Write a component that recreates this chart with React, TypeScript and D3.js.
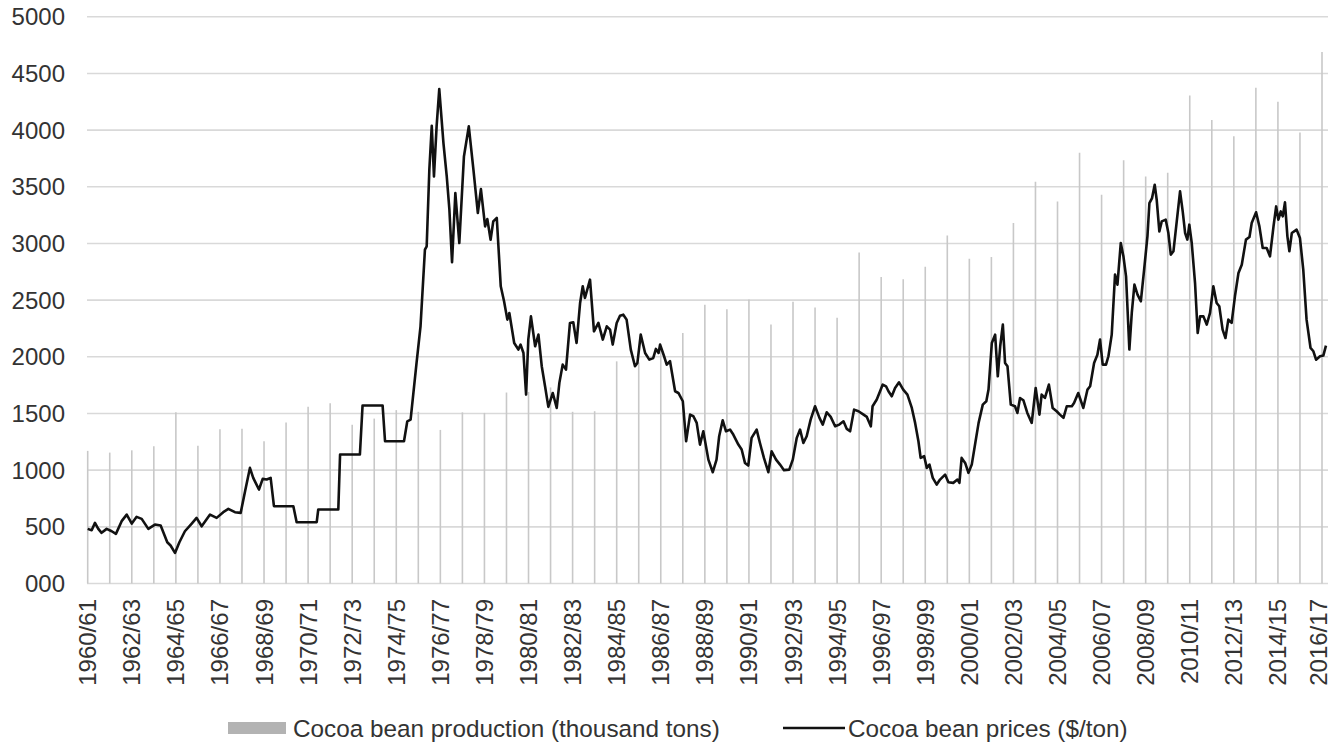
import React from 'react';
import * as d3 from 'd3';

// season labels, 1960/61 .. 2016/17
const seasons: string[] = d3.range(1960, 2017).map(
  (y) => `${y}/${String((y + 1) % 100).padStart(2, '0')}`
);

// world production, thousand tons (one value per season)
const production: number[] = [
  1170, 1155, 1175, 1210, 1510, 1215, 1360, 1365, 1255, 1420,
  1560, 1590, 1400, 1455, 1530, 1515, 1355, 1510, 1505, 1685,
  1690, 1730, 1515, 1520, 1960, 1950, 2060, 2210, 2460, 2420,
  2505, 2285, 2485, 2435, 2345, 2920, 2705, 2685, 2795, 3070,
  2865, 2880, 3180, 3545, 3370, 3800, 3430, 3735, 3590, 3625,
  4305, 4090, 3945, 4375, 4250, 3980, 4690,
];

// prices $/ton, [position in seasons from 1960/61, value]
const prices: [number, number][] = [
  [0, 482], [0.18, 470], [0.33, 535], [0.48, 482], [0.63, 447], [0.86, 482],
  [1.09, 461], [1.28, 438], [1.54, 550], [1.77, 608], [2.0, 529], [2.22, 588],
  [2.45, 570], [2.75, 482], [3.05, 520], [3.31, 511], [3.61, 364], [3.76, 335],
  [3.96, 270], [4.16, 364], [4.41, 461], [4.72, 529], [4.94, 579], [5.17, 505],
  [5.55, 608], [5.85, 579], [6.15, 629], [6.38, 658], [6.68, 629], [6.94, 623],
  [7.14, 814], [7.36, 1020], [7.51, 932], [7.77, 829], [7.94, 923], [8.12, 917],
  [8.3, 932], [8.45, 682], [9.33, 682], [9.48, 541], [10.39, 541], [10.46, 653],
  [11.37, 653], [11.45, 1138], [12.35, 1138], [12.47, 1570], [13.38, 1570],
  [13.49, 1255], [14.35, 1255], [14.5, 1431], [14.65, 1446], [14.92, 1946],
  [15.1, 2269], [15.3, 2945], [15.38, 2975], [15.5, 3651], [15.61, 4039],
  [15.71, 3592], [15.83, 4033], [15.95, 4362], [16.14, 3886], [16.29, 3592],
  [16.41, 3298], [16.53, 2834], [16.68, 3445], [16.86, 3004], [17.07, 3768],
  [17.29, 4033], [17.5, 3651], [17.7, 3269], [17.84, 3480], [18.03, 3151],
  [18.13, 3216], [18.28, 3033], [18.4, 3195], [18.56, 3225], [18.74, 2622],
  [18.89, 2490], [19.04, 2328], [19.13, 2387], [19.35, 2122], [19.54, 2064],
  [19.64, 2108], [19.77, 2034], [19.89, 1667], [19.99, 2152], [20.11, 2357],
  [20.3, 2093], [20.45, 2196], [20.6, 1917], [20.75, 1740], [20.9, 1558],
  [21.1, 1681], [21.28, 1549], [21.4, 1770], [21.55, 1931], [21.7, 1887],
  [21.88, 2299], [22.03, 2305], [22.18, 2122], [22.34, 2475], [22.46, 2622],
  [22.56, 2519], [22.79, 2681], [22.97, 2225], [23.17, 2299], [23.37, 2152],
  [23.55, 2269], [23.7, 2240], [23.82, 2108], [24.0, 2299], [24.15, 2363],
  [24.3, 2372], [24.45, 2328], [24.64, 2064], [24.83, 1917], [24.94, 1946],
  [25.09, 2196], [25.29, 2034], [25.48, 1975], [25.66, 1990], [25.78, 2070],
  [25.9, 2034], [25.97, 2108], [26.15, 2005], [26.27, 1931], [26.42, 1961],
  [26.65, 1696], [26.8, 1681], [27.0, 1608], [27.15, 1255], [27.33, 1490],
  [27.48, 1476], [27.63, 1417], [27.78, 1225], [27.93, 1343], [28.16, 1093],
  [28.36, 982], [28.53, 1093], [28.65, 1299], [28.81, 1440], [28.96, 1343],
  [29.14, 1358], [29.29, 1314], [29.52, 1226], [29.67, 1182], [29.82, 1064],
  [29.97, 1041], [30.12, 1285], [30.35, 1358], [30.5, 1240], [30.68, 1108],
  [30.88, 982], [31.03, 1167], [31.23, 1093], [31.41, 1049], [31.59, 1000],
  [31.83, 1005], [31.99, 1093], [32.17, 1285], [32.32, 1358], [32.47, 1240],
  [32.62, 1299], [32.8, 1446], [33.0, 1564], [33.2, 1461], [33.35, 1402],
  [33.53, 1511], [33.71, 1470], [33.91, 1387], [34.1, 1402], [34.29, 1431],
  [34.44, 1364], [34.59, 1343], [34.77, 1534], [34.97, 1520], [35.2, 1490],
  [35.35, 1470], [35.53, 1387], [35.61, 1564], [35.8, 1623], [35.95, 1696],
  [36.07, 1755], [36.22, 1740], [36.33, 1696], [36.48, 1652], [36.63, 1725],
  [36.81, 1775], [37.0, 1711], [37.19, 1667], [37.39, 1549], [37.54, 1417],
  [37.69, 1255], [37.79, 1108], [37.95, 1123], [38.07, 1020], [38.19, 1049],
  [38.34, 932], [38.52, 873], [38.67, 917], [38.9, 961], [39.05, 894],
  [39.27, 888], [39.46, 917], [39.55, 888], [39.65, 1108], [39.81, 1064],
  [39.96, 976], [40.11, 1049], [40.27, 1240], [40.42, 1417], [40.61, 1578],
  [40.77, 1608], [40.87, 1711], [41.02, 2122], [41.17, 2196], [41.29, 1828],
  [41.4, 2093], [41.52, 2284], [41.62, 1946], [41.73, 1917], [41.88, 1578],
  [42.07, 1564], [42.18, 1505], [42.3, 1637], [42.45, 1617], [42.63, 1505],
  [42.83, 1417], [43.01, 1725], [43.18, 1490], [43.28, 1667], [43.43, 1637],
  [43.61, 1755], [43.78, 1549], [43.96, 1520], [44.11, 1490], [44.27, 1461],
  [44.42, 1564], [44.65, 1564], [44.75, 1593], [44.94, 1681], [45.17, 1549],
  [45.36, 1711], [45.48, 1740], [45.66, 1946], [45.81, 2019], [45.93, 2152],
  [46.05, 1931], [46.2, 1931], [46.31, 2005], [46.46, 2196], [46.61, 2725],
  [46.72, 2637], [46.87, 3004], [46.99, 2887], [47.11, 2710], [47.26, 2064],
  [47.37, 2387], [47.49, 2637], [47.63, 2549], [47.78, 2490], [47.93, 2769],
  [48.08, 3063], [48.17, 3357], [48.29, 3401], [48.41, 3518], [48.5, 3386],
  [48.62, 3107], [48.73, 3195], [48.91, 3210], [49.03, 3092], [49.14, 2901],
  [49.26, 2931], [49.41, 3195], [49.56, 3460], [49.68, 3283], [49.79, 3092],
  [49.89, 3034], [49.98, 3166], [50.09, 3004], [50.24, 2651], [50.36, 2210],
  [50.47, 2357], [50.62, 2357], [50.77, 2284], [50.92, 2387], [51.07, 2622],
  [51.22, 2475], [51.34, 2446], [51.49, 2240], [51.62, 2166], [51.75, 2328],
  [51.9, 2299], [52.05, 2534], [52.21, 2740], [52.36, 2813], [52.55, 3034],
  [52.71, 3057], [52.81, 3180], [53.01, 3275], [53.16, 3151], [53.31, 2960],
  [53.49, 2960], [53.64, 2887], [53.8, 3151], [53.92, 3327], [54.02, 3210],
  [54.13, 3283], [54.22, 3239], [54.32, 3363], [54.43, 3063], [54.52, 2931],
  [54.63, 3092], [54.85, 3122], [55.0, 3048], [55.15, 2769], [55.3, 2328],
  [55.48, 2078], [55.61, 2049], [55.73, 1975], [55.91, 2005], [56.06, 2011],
  [56.18, 2099],
];

const yTicks: number[] = d3.range(0, 5001, 500);
const yTickLabels: string[] = yTicks.map((v) => (v === 0 ? '000' : String(v)));

const legendItems = ['Cocoa bean production (thousand tons)', 'Cocoa bean prices ($/ton)'];

const W = 1333;
const H = 743;
const FONT = '"Liberation Sans", Arial, Helvetica, sans-serif';

export default function App() {
  const y = d3.scaleLinear().domain([0, 5000]).range([583.5, 16.8]);
  const x = d3.scalePoint<string>().domain(seasons).range([87.7, 1322]);
  const xt = d3.scaleLinear().domain([0, seasons.length - 1]).range([87.7, 1322]);
  const gridX0 = 87;
  const gridX1 = 1328;

  const line = d3
    .line<[number, number]>()
    .x((d) => xt(d[0]))
    .y((d) => y(d[1]));

  return (
    <svg
      width={W}
      height={H}
      style={{ position: 'absolute', left: 0, top: 0, background: '#fff' }}
      fontFamily={FONT}
    >
      {/* horizontal grid */}
      {yTicks.map((t) => (
        <line key={t} x1={gridX0} x2={gridX1} y1={y(t)} y2={y(t)} stroke="#d9d9d9" strokeWidth={1.6} />
      ))}

      {/* y labels */}
      {yTicks.map((t, i) => (
        <text key={t} x={65} y={y(t)} textAnchor="end" dominantBaseline="central" fontSize={24} fill="#333">
          {yTickLabels[i]}
        </text>
      ))}

      {/* production bars (drawn as thin columns) */}
      {production.map((v, i) => (
        <line
          key={seasons[i]}
          x1={x(seasons[i])}
          x2={x(seasons[i])}
          y1={y(0)}
          y2={y(v)}
          stroke="#c8c8c8"
          strokeWidth={1.6}
        />
      ))}

      {/* price line */}
      <path d={line(prices) || ''} fill="none" stroke="#111" strokeWidth={2.6} strokeLinejoin="round" />

      {/* x labels, every other season */}
      {seasons.map((s, i) =>
        i % 2 === 0 ? (
          <text
            key={s}
            transform={`translate(${Math.min(x(s) as number, 1318)},${599}) rotate(-90)`}
            textAnchor="end"
            dominantBaseline="central"
            fontSize={24}
            fill="#333"
          >
            {s}
          </text>
        ) : null
      )}

      {/* legend */}
      <rect x={228} y={722} width={58} height={12} fill="#b3b3b3" />
      <text x={293} y={728} dominantBaseline="central" fontSize={24.3} fill="#333">
        {legendItems[0]}
      </text>
      <line x1={783} x2={845} y1={728} y2={728} stroke="#111" strokeWidth={2.6} />
      <text x={848} y={728} dominantBaseline="central" fontSize={24.3} fill="#333">
        {legendItems[1]}
      </text>
    </svg>
  );
}
